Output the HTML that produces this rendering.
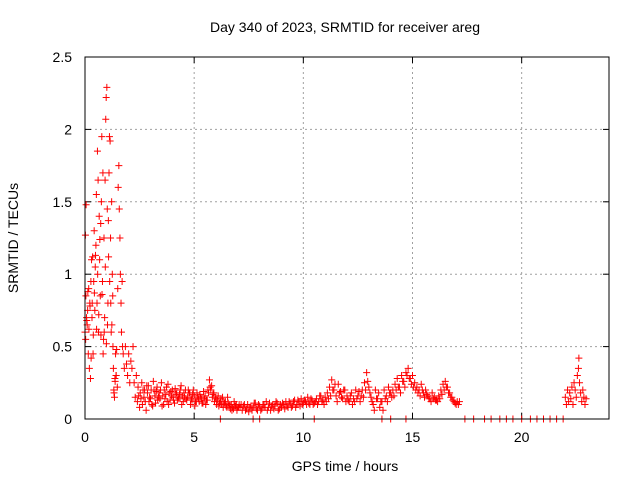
<!DOCTYPE html>
<html><head><meta charset="utf-8"><style>
body{margin:0;background:#fff;}
svg{display:block;font-family:"Liberation Sans",sans-serif;font-size:14px;}
</style></head><body>
<svg width="640" height="480" viewBox="0 0 640 480">
<rect width="640" height="480" fill="#fff"/>
<text x="345" y="32" text-anchor="middle">Day 340 of 2023, SRMTID for receiver areg</text>
<g id="grid"></g>
<g id="ticks"></g>
<g id="marks"></g>
<rect x="85" y="57" width="524" height="362" fill="none" stroke="#000"/>
<text x="345" y="471" text-anchor="middle">GPS time / hours</text>
<text x="18" y="238" text-anchor="middle" transform="rotate(-90 18 238)">SRMTID / TECUs</text>
</svg>
<script>
const xTicks=[0,5,10,15,20];
const yTicks=[0,0.5,1,1.5,2,2.5];
const yTickLabels=["0","0.5","1","1.5","2","2.5"];
const earlyHours=[0,0.02,0.04,0.05,0.07,0.1,0.12,0.15,0.17,0.2,0.22,0.25,0.27,0.3,0.32,0.35,0.37,0.4,0.42,0.45,0.47,0.5,0.52,0.55,0.57,0.6,0.62,0.65,0.67,0.7,0.72,0.75,0.77,0.8,0.82,0.85,0.87,0.9,0.92,0.95,0.97,1.0,1.02,1.05,1.07,1.1,1.12,1.15,1.17,1.2,1.22,1.25,1.27,1.3,1.32,1.35,1.37,1.4,1.42,1.45,1.5,1.52,1.55,1.57,1.6,1.62,1.65,1.67,1.7,1.72,1.75,1.8,1.85,1.9,1.95,2.0,2.05,2.1,2.15,2.2,2.25,2.3,2.35];
const earlyValues=[0.6,1.27,0.85,1.48,0.7,0.65,0.75,0.45,0.9,0.35,0.8,0.28,0.95,1.1,0.7,1.12,0.45,0.95,1.3,0.75,1.05,1.2,1.55,0.8,1.85,1.65,0.6,1.4,1.1,0.85,1.35,1.5,1.95,0.95,1.7,0.55,1.25,0.7,1.65,2.07,2.22,2.29,1.45,0.8,1.37,1.7,1.95,1.92,1.25,0.6,1.5,1.0,0.85,0.35,0.2,0.15,0.28,0.45,0.3,0.48,0.9,1.6,1.75,1.45,1.25,1.0,0.8,0.6,0.95,0.5,0.45,0.35,0.5,0.38,0.3,0.45,0.25,0.4,0.35,0.5,0.25,0.15,0.3];
const early2Hours=[0.03,0.08,0.13,0.18,0.23,0.28,0.33,0.38,0.43,0.48,0.53,0.58,0.63,0.68,0.73,0.78,0.83,0.88,0.93,0.98,1.03,1.08,1.13,1.18,1.23,1.28,1.33,1.38,1.43,1.48];
const early2Values=[0.55,0.68,0.88,0.62,0.78,0.42,0.8,0.58,0.87,1.13,0.62,1.0,0.72,1.24,0.58,0.86,0.45,0.6,1.05,0.52,0.65,1.12,0.95,0.8,0.65,0.5,0.18,0.26,0.3,0.22];
// mid segment: samples every 0.1 h from 2.4 h
const midStart=2.4, midStep=0.1;
const midValuesA=[0.12,0.08,0.25,0.15,0.06,0.23,0.14,0.09,0.16,0.22,0.18,0.25,0.1,0.17,0.24,0.13,0.2,0.11,0.18,0.14,0.23,0.12,0.2,0.15,0.18,0.13,0.16,0.12,0.14,0.15,0.11,0.16,0.13,0.27,0.23,0.18,0.14,0.16,0.12,0.15,0.11,0.08,0.09,0.1,0.07,0.09,0.08];
const midValuesB=[0.22,0.18,0.1,0.2,0.23,0.12,0.2,0.26,0.11,0.13,0.14,0.09,0.2,0.22,0.1,0.19,0.15,0.21,0.13,0.17,0.1,0.18,0.14,0.2,0.1,0.17,0.09,0.18,0.12,0.14,0.19,0.1,0.2,0.22,0.15,0.12,0.1,0.09,0.14,0.08,0.12,0.15,0.1,0.06,0.12,0.1,0.08];
const midValuesC=[0.16,0.14,0.2,0.12,0.18,0.15,0.1,0.2,0.19,0.15,0.2,0.16,0.14,0.12,0.18,0.16,0.13,0.17,0.15,0.2,0.16,0.15,0.13,0.18,0.14,0.2,0.12,0.15,0.17,0.11,0.14,0.13,0.18,0.2,0.17,0.15,0.13,0.11,0.1,0.12,0.09,0.11,0.07,0.08,0.09,0.06,0.1];
// late-day segment: samples every 0.1 h from 7.1 h
const daySt=7.1, dayStep=0.1;
const dayValuesA=[0.08,0.06,0.1,0.07,0.05,0.09,0.08,0.11,0.06,0.09,0.07,0.1,0.12,0.08,0.06,0.1,0.09,0.11,0.07,0.08,0.1,0.12,0.08,0.11,0.09,0.13,0.1,0.12,0.14,0.11,0.12,0.15,0.1,0.13,0.11,0.14,0.12,0.16,0.13,0.15,0.18,0.22,0.27,0.2,0.16,0.24,0.19,0.14,0.2,0.16,0.12,0.18,0.14,0.2,0.16,0.12,0.2,0.25,0.32,0.22,0.15,0.1,0.2,0.14,0.08,0.12,0.2,0.16,0.22,0.18,0.2,0.24,0.28,0.22,0.3,0.26,0.32,0.35,0.28,0.3,0.25,0.22,0.2,0.24,0.18,0.2,0.16,0.14,0.18,0.15,0.13,0.16,0.2,0.24,0.26,0.22,0.18,0.15,0.12,0.1,0.1];
const dayValuesB=[0.1,0.09,0.06,0.1,0.08,0.06,0.11,0.07,0.1,0.06,0.1,0.08,0.06,0.11,0.09,0.07,0.12,0.06,0.1,0.11,0.07,0.09,0.12,0.08,0.12,0.08,0.13,0.09,0.1,0.13,0.1,0.11,0.14,0.1,0.12,0.1,0.16,0.12,0.1,0.12,0.14,0.16,0.2,0.24,0.12,0.18,0.15,0.2,0.12,0.13,0.16,0.1,0.12,0.14,0.19,0.16,0.15,0.2,0.26,0.18,0.12,0.06,0.14,0.18,0.12,0.06,0.14,0.12,0.18,0.15,0.16,0.2,0.22,0.18,0.26,0.22,0.3,0.28,0.24,0.22,0.2,0.18,0.16,0.2,0.15,0.17,0.14,0.12,0.14,0.13,0.12,0.14,0.17,0.2,0.22,0.18,0.15,0.13,0.11,0.12,0.12];
const zeroHours=[6.2,7.7,8.0,10.5,13.6,14.0,14.7,17.4,17.8,18.3,18.6,19.0,19.3,19.6,20.0,20.4,20.7,21.0,21.3,21.6,21.9];
const zeroValues=[0,0,0,0,0,0,0,0,0,0,0,0,0,0,0,0,0,0,0,0,0];
const lateHours=[22.0,22.05,22.1,22.15,22.2,22.25,22.3,22.35,22.4,22.45,22.5,22.55,22.6,22.62,22.65,22.7,22.75,22.8,22.85,22.9,22.95];
const lateValues=[0.15,0.1,0.2,0.12,0.18,0.14,0.22,0.1,0.25,0.2,0.15,0.3,0.35,0.42,0.25,0.18,0.12,0.2,0.15,0.1,0.14];

const X=v=>85+v*(524/24);
const Y=v=>419-v*(362/2.5);
const NS="http://www.w3.org/2000/svg";
const grid=document.getElementById('grid'),ticks=document.getElementById('ticks'),marks=document.getElementById('marks');
function mk(t,a,p){const e=document.createElementNS(NS,t);for(const k in a)e.setAttribute(k,a[k]);p.appendChild(e);return e;}
xTicks.forEach(t=>{const x=X(t);
 if(t>0){const g=mk('line',{x1:x,x2:x,y1:57,y2:419,stroke:'#a0a0a0','stroke-dasharray':'2,3'},grid);
 
 }
 mk('line',{x1:x,x2:x,y1:419,y2:413,stroke:'#000'},ticks);mk('line',{x1:x,x2:x,y1:57,y2:63,stroke:'#000'},ticks);
 const l=mk('text',{x:x,y:442,'text-anchor':'middle'},ticks);l.textContent=t;
 
 });
yTicks.forEach((t,i)=>{const y=Y(t);
 if(t>0&&t<2.5){const g=mk('line',{x1:85,x2:609,y1:y,y2:y,stroke:'#a0a0a0','stroke-dasharray':'2,3'},grid);
 
 }
 mk('line',{x1:85,x2:91,y1:y,y2:y,stroke:'#000'},ticks);mk('line',{x1:609,x2:603,y1:y,y2:y,stroke:'#000'},ticks);
 const l=mk('text',{x:72,y:y+5,'text-anchor':'end'},ticks);l.textContent=yTickLabels[i];
 
 });
let d='';
function plus(h,v){const x=X(h),y=Y(v);d+=`M${x-3.5},${y}h7M${x},${y-3.5}v7`;}
earlyHours.forEach((h,i)=>plus(h,earlyValues[i]));
early2Hours.forEach((h,i)=>plus(h,early2Values[i]));
[midValuesA,midValuesB,midValuesC].forEach((arr,k)=>arr.forEach((v,i)=>plus(midStart+i*midStep+k*0.03,v)));
[dayValuesA,dayValuesB].forEach((arr,k)=>arr.forEach((v,i)=>plus(daySt+i*dayStep+k*0.05,v)));
zeroHours.forEach((h,i)=>plus(h,zeroValues[i]));
lateHours.forEach((h,i)=>plus(h,lateValues[i]));
const p=mk('path',{d:d,stroke:'#ff0000','stroke-width':1,fill:'none'},marks);


</script>
</body></html>
